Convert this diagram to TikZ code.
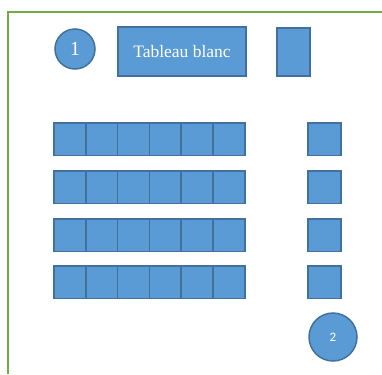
\documentclass[tikz,border=0pt]{standalone}
\usepackage{fontspec}
\setmainfont{Liberation Serif}
\newfontfamily\carlito{Carlito}
\usepackage{xcolor}
\definecolor{deskfill}{HTML}{5B9BD5}
\definecolor{deskline}{HTML}{41719C}
\definecolor{wallgreen}{HTML}{70AD47}

\begin{document}
\begin{tikzpicture}[x=1pt,y=-1pt,
  desk/.style={fill=deskfill,draw=deskline,line width=1.5pt},
  seat/.style={desk,circle,inner sep=0pt,text=white}]

\useasboundingbox (0,0) rectangle (382,374);

% murs
\draw[wallgreen,line width=2pt] (8,374) -- (8,12) -- (382,12);

\node[seat,minimum size=40pt,font=\fontsize{20}{20}\selectfont] (p1) at (75,49) {1};
\node[desk,minimum width=128pt,minimum height=49pt,inner sep=0pt,
  text=white,font=\fontsize{17.5}{17.5}\selectfont] (tab) at (182,51.5) {Tableau blanc};
\node[desk,minimum width=33pt,minimum height=48pt,inner sep=0pt] (bureau) at (293.5,52) {};

\foreach \j/\y in {1/123,2/171,3/219,4/266} {
  \foreach \i in {0,...,5} {

    \draw[desk] (54+\i*31.8,\y) rectangle ++(31.8,32.5);
  }

  \draw[desk] (308,\y) rectangle ++(33,32.5);
}

\node[seat,minimum size=48pt,font=\carlito\fontsize{13}{13}\selectfont] (p2) at (333,337) {2};

\end{tikzpicture}
\end{document}
